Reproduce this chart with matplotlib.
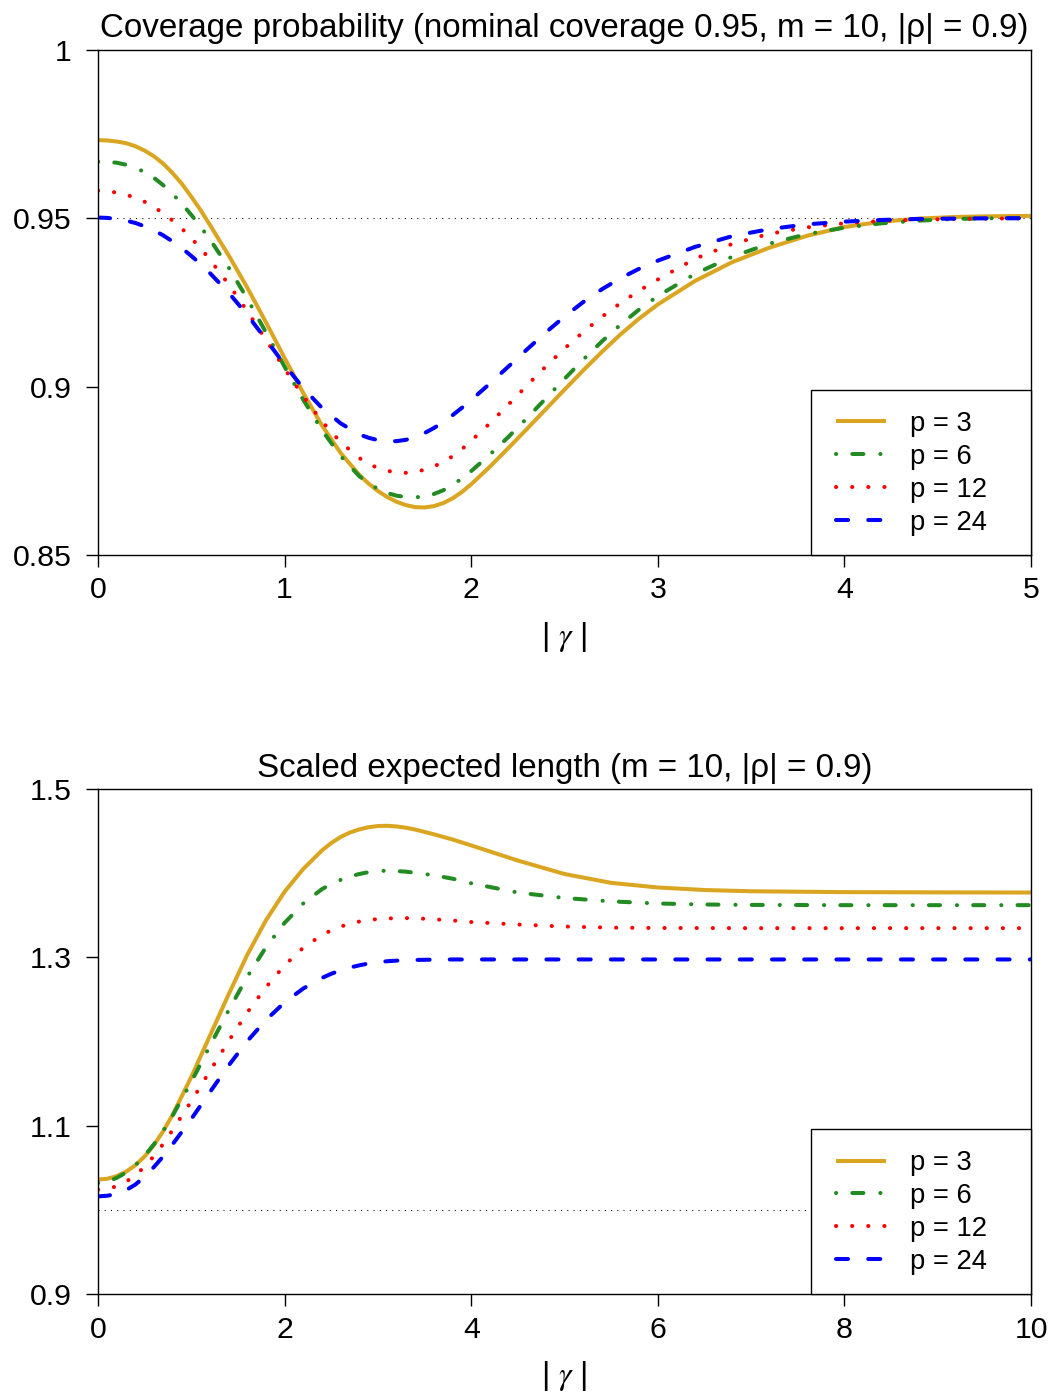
import matplotlib
matplotlib.use("Agg")
import matplotlib.pyplot as plt
from matplotlib.patches import Rectangle

plt.rcParams["font.family"] = ["Liberation Sans", "DejaVu Sans"]
plt.rcParams["mathtext.fontset"] = "stix"

FS_TICK = 21.8
FS_TITLE = 23.9
FS_LEG = 19.7

# ---- top panel: coverage probability ----
cov_x = [0.0, 0.05, 0.1, 0.15, 0.2, 0.25, 0.3, 0.35, 0.4, 0.45, 0.5, 0.55, 0.6,
         0.7, 0.8, 0.9, 1.0, 1.1, 1.2, 1.3, 1.4,
         1.45, 1.5, 1.55, 1.6, 1.65, 1.7, 1.75, 1.8, 1.85, 1.9, 1.95,
         2.0, 2.1, 2.2, 2.3, 2.4, 2.5, 2.6, 2.7, 2.8, 2.9, 3.0,
         3.2, 3.4, 3.6, 3.8, 4.0, 4.2, 4.4, 4.6, 4.8, 5.0]
cov_p3 = [0.9732, 0.9731, 0.9728, 0.9723, 0.9714, 0.9701, 0.9684, 0.9662, 0.9634, 0.9602,
          0.9564, 0.9524, 0.9480,
          0.9390, 0.9294, 0.9191, 0.9085, 0.8981, 0.8885, 0.8803, 0.8738,
          0.8712, 0.8690, 0.8672, 0.8658, 0.8648, 0.8642, 0.8641, 0.8645, 0.8654, 0.8668, 0.8687,
          0.8710, 0.8762, 0.8818, 0.8875, 0.8933, 0.8991, 0.9048, 0.9103, 0.9155, 0.9202, 0.9244,
          0.9314, 0.9370, 0.9413, 0.9448, 0.9474, 0.9490, 0.9499, 0.9504, 0.9506, 0.9507]
cov_p6 = [0.9668, 0.9667, 0.9665, 0.9659, 0.9650, 0.9637, 0.9620, 0.9598, 0.9572, 0.9543,
          0.9510, 0.9475, 0.9437,
          0.9354, 0.9261, 0.9161, 0.9059, 0.8961, 0.8871, 0.8794, 0.8734,
          0.8713, 0.8696, 0.8684, 0.8676, 0.8672, 0.8671, 0.8674, 0.8681, 0.8692, 0.8708, 0.8727,
          0.8749, 0.8798, 0.8851, 0.8907, 0.8965, 0.9023, 0.9080, 0.9134, 0.9184, 0.9229, 0.9269,
          0.9335, 0.9386, 0.9425, 0.9453, 0.9472, 0.9485, 0.9493, 0.9498, 0.9500, 0.9501]
cov_p12 = [0.9582, 0.9581, 0.9576, 0.9570, 0.9561, 0.9549, 0.9533, 0.9515, 0.9493, 0.9469,
           0.9441, 0.9411, 0.9377,
           0.9304, 0.9224, 0.9139, 0.9053, 0.8971, 0.8897, 0.8835, 0.8788,
           0.8771, 0.8758, 0.8750, 0.8745, 0.8744, 0.8747, 0.8753, 0.8763, 0.8776, 0.8793, 0.8814,
           0.8839, 0.8891, 0.8947, 0.9004, 0.9060, 0.9113, 0.9162, 0.9207, 0.9248, 0.9285, 0.9318,
           0.9380, 0.9424, 0.9454, 0.9473, 0.9485, 0.9492, 0.9496, 0.9498, 0.9499, 0.9500]
cov_p24 = [0.9502, 0.9501, 0.9498, 0.9493, 0.9486, 0.9476, 0.9464, 0.9449, 0.9431, 0.9411,
           0.9388, 0.9364, 0.9337,
           0.9279, 0.9213, 0.9140, 0.9065, 0.8995, 0.8937, 0.8891, 0.8858,
           0.8848, 0.8841, 0.8838, 0.8838, 0.8842, 0.8850, 0.8862, 0.8877, 0.8894, 0.8915, 0.8937,
           0.8960, 0.9009, 0.9060, 0.9111, 0.9161, 0.9208, 0.9251, 0.9289, 0.9322, 0.9350, 0.9374,
           0.9415, 0.9447, 0.9468, 0.9482, 0.9490, 0.9495, 0.9498, 0.9499, 0.9500, 0.9500]

# ---- bottom panel: scaled expected length ----
len_x = [0.0, 0.1, 0.2, 0.3, 0.4, 0.5, 0.6, 0.7, 0.8,
         1.0, 1.2, 1.4, 1.6, 1.8, 2.0, 2.2, 2.4,
         2.5, 2.6, 2.7, 2.8, 2.9, 3.0, 3.1, 3.2, 3.3, 3.4,
         3.6, 3.8, 4.0, 4.5, 5.0, 5.5, 6.0, 6.5, 7.0, 8.0, 9.0, 10.0]
len_p3 = [1.036, 1.037, 1.040, 1.0453, 1.053, 1.0635, 1.077, 1.0937, 1.113,
          1.158, 1.207, 1.256, 1.303, 1.344, 1.378, 1.405, 1.427,
          1.4358, 1.443, 1.4483, 1.452, 1.4546, 1.456, 1.4563, 1.4555, 1.4540, 1.4518,
          1.4462, 1.4400, 1.4330, 1.4150, 1.3990, 1.3885, 1.3830, 1.3800, 1.3785,
          1.3775, 1.3772, 1.3770]
len_p6 = [1.032, 1.0335, 1.038, 1.0443, 1.053, 1.0643, 1.078, 1.0939, 1.112,
          1.152, 1.195, 1.237, 1.277, 1.312, 1.341, 1.364, 1.381,
          1.3872, 1.392, 1.3960, 1.399, 1.4012, 1.4025, 1.4030, 1.4025, 1.4018, 1.4005,
          1.3975, 1.3935, 1.3880, 1.3770, 1.3705, 1.3665, 1.3640, 1.3628, 1.3623,
          1.3620, 1.3620, 1.3620]
len_p12 = [1.024, 1.025, 1.028, 1.0333, 1.041, 1.0513, 1.064, 1.0785, 1.095,
           1.129, 1.165, 1.2005, 1.2345, 1.2645, 1.2905, 1.3115, 1.3265,
           1.3321, 1.3365, 1.3400, 1.3425, 1.3444, 1.3455, 1.3462, 1.3465, 1.3466, 1.3465,
           1.3452, 1.3438, 1.3420, 1.3390, 1.3366, 1.3353, 1.3349, 1.3348, 1.3347,
           1.3347, 1.3347, 1.3347]
len_p24 = [1.016, 1.0168, 1.019, 1.0234, 1.030, 1.0395, 1.051, 1.0637, 1.078,
           1.108, 1.140, 1.1715, 1.2005, 1.2255, 1.2465, 1.2630, 1.2755,
           1.2805, 1.2845, 1.2879, 1.2905, 1.2927, 1.2943, 1.2954, 1.2961, 1.2966, 1.2969,
           1.2973, 1.2975, 1.2975, 1.2975, 1.2975, 1.2975, 1.2975, 1.2975, 1.2975,
           1.2975, 1.2975, 1.2975]

labels = ["p = 3", "p = 6", "p = 12", "p = 24"]
colors = ["goldenrod", "forestgreen", "red", "blue"]
# dash patterns in units of line width (R lty 1, 4, 3, 2 with round caps)
dashes = [None, (0.05, 4.0, 2.75, 4.2), (0.05, 3.95), (3.0, 5.0)]
LW = 2.9


def draw_panel(ax, x, series, ref, xlim, ylim, xticks, yticks, yticklabels, title):
    ax.axhline(ref, color="black", lw=0.75, dashes=(1, 5), zorder=1)
    for y, lab, col, ds in zip(series, labels, colors, dashes):
        line, = ax.plot(x, y, color=col, lw=LW, label=lab,
                        solid_capstyle="butt", dash_capstyle="round", zorder=2)
        if ds is not None:
            line.set_dashes(ds)
    ax.set_xlim(*xlim)
    ax.set_ylim(*ylim)
    ax.set_xticks(xticks)
    ax.set_xticklabels([str(t) for t in xticks])
    ax.set_yticks(yticks)
    ax.set_yticklabels(yticklabels)
    ax.tick_params(direction="out", length=8.5, width=1, labelsize=FS_TICK, pad=7)
    ax.tick_params(axis="y", pad=10.5)
    for s in ax.spines.values():
        s.set_linewidth(1.0)
        s.set_color("black")
    ax.set_title(title, fontsize=FS_TITLE, pad=9)
    ax.set_xlabel("| $\\gamma$ |", fontsize=FS_TICK + 1, labelpad=11)

    # legend box (R style: flush with the lower right corner)
    box = Rectangle((0.7642, 0.0), 1 - 0.7642, 0.3267, transform=ax.transAxes,
                    facecolor="white", edgecolor="black", lw=1.0, zorder=4,
                    clip_on=False)
    ax.add_patch(box)
    leg = ax.legend(loc="upper left", bbox_to_anchor=(0.7915, 0.285),
                    fontsize=FS_LEG, frameon=False, borderpad=0, borderaxespad=0,
                    handlelength=1.8, handletextpad=0.9, labelspacing=0.25)
    leg.set_zorder(5)


fig = plt.figure(figsize=(10.48, 13.94), dpi=100)
ax1 = fig.add_axes([0.0935, 0.6019, 0.8903, 0.3623])
ax2 = fig.add_axes([0.0935, 0.0717, 0.8903, 0.3623])

draw_panel(ax1, cov_x, [cov_p3, cov_p6, cov_p12, cov_p24], 0.95,
           (0, 5), (0.85, 1.0), [0, 1, 2, 3, 4, 5],
           [0.85, 0.9, 0.95, 1.0], ["0.85", "0.9", "0.95", "1"],
           "Coverage probability (nominal coverage 0.95, m = 10, |ρ| = 0.9)")
draw_panel(ax2, len_x, [len_p3, len_p6, len_p12, len_p24], 1.0,
           (0, 10), (0.9, 1.5), [0, 2, 4, 6, 8, 10],
           [0.9, 1.1, 1.3, 1.5], ["0.9", "1.1", "1.3", "1.5"],
           "Scaled expected length (m = 10, |ρ| = 0.9)")

fig.savefig("out.png", dpi=100)
